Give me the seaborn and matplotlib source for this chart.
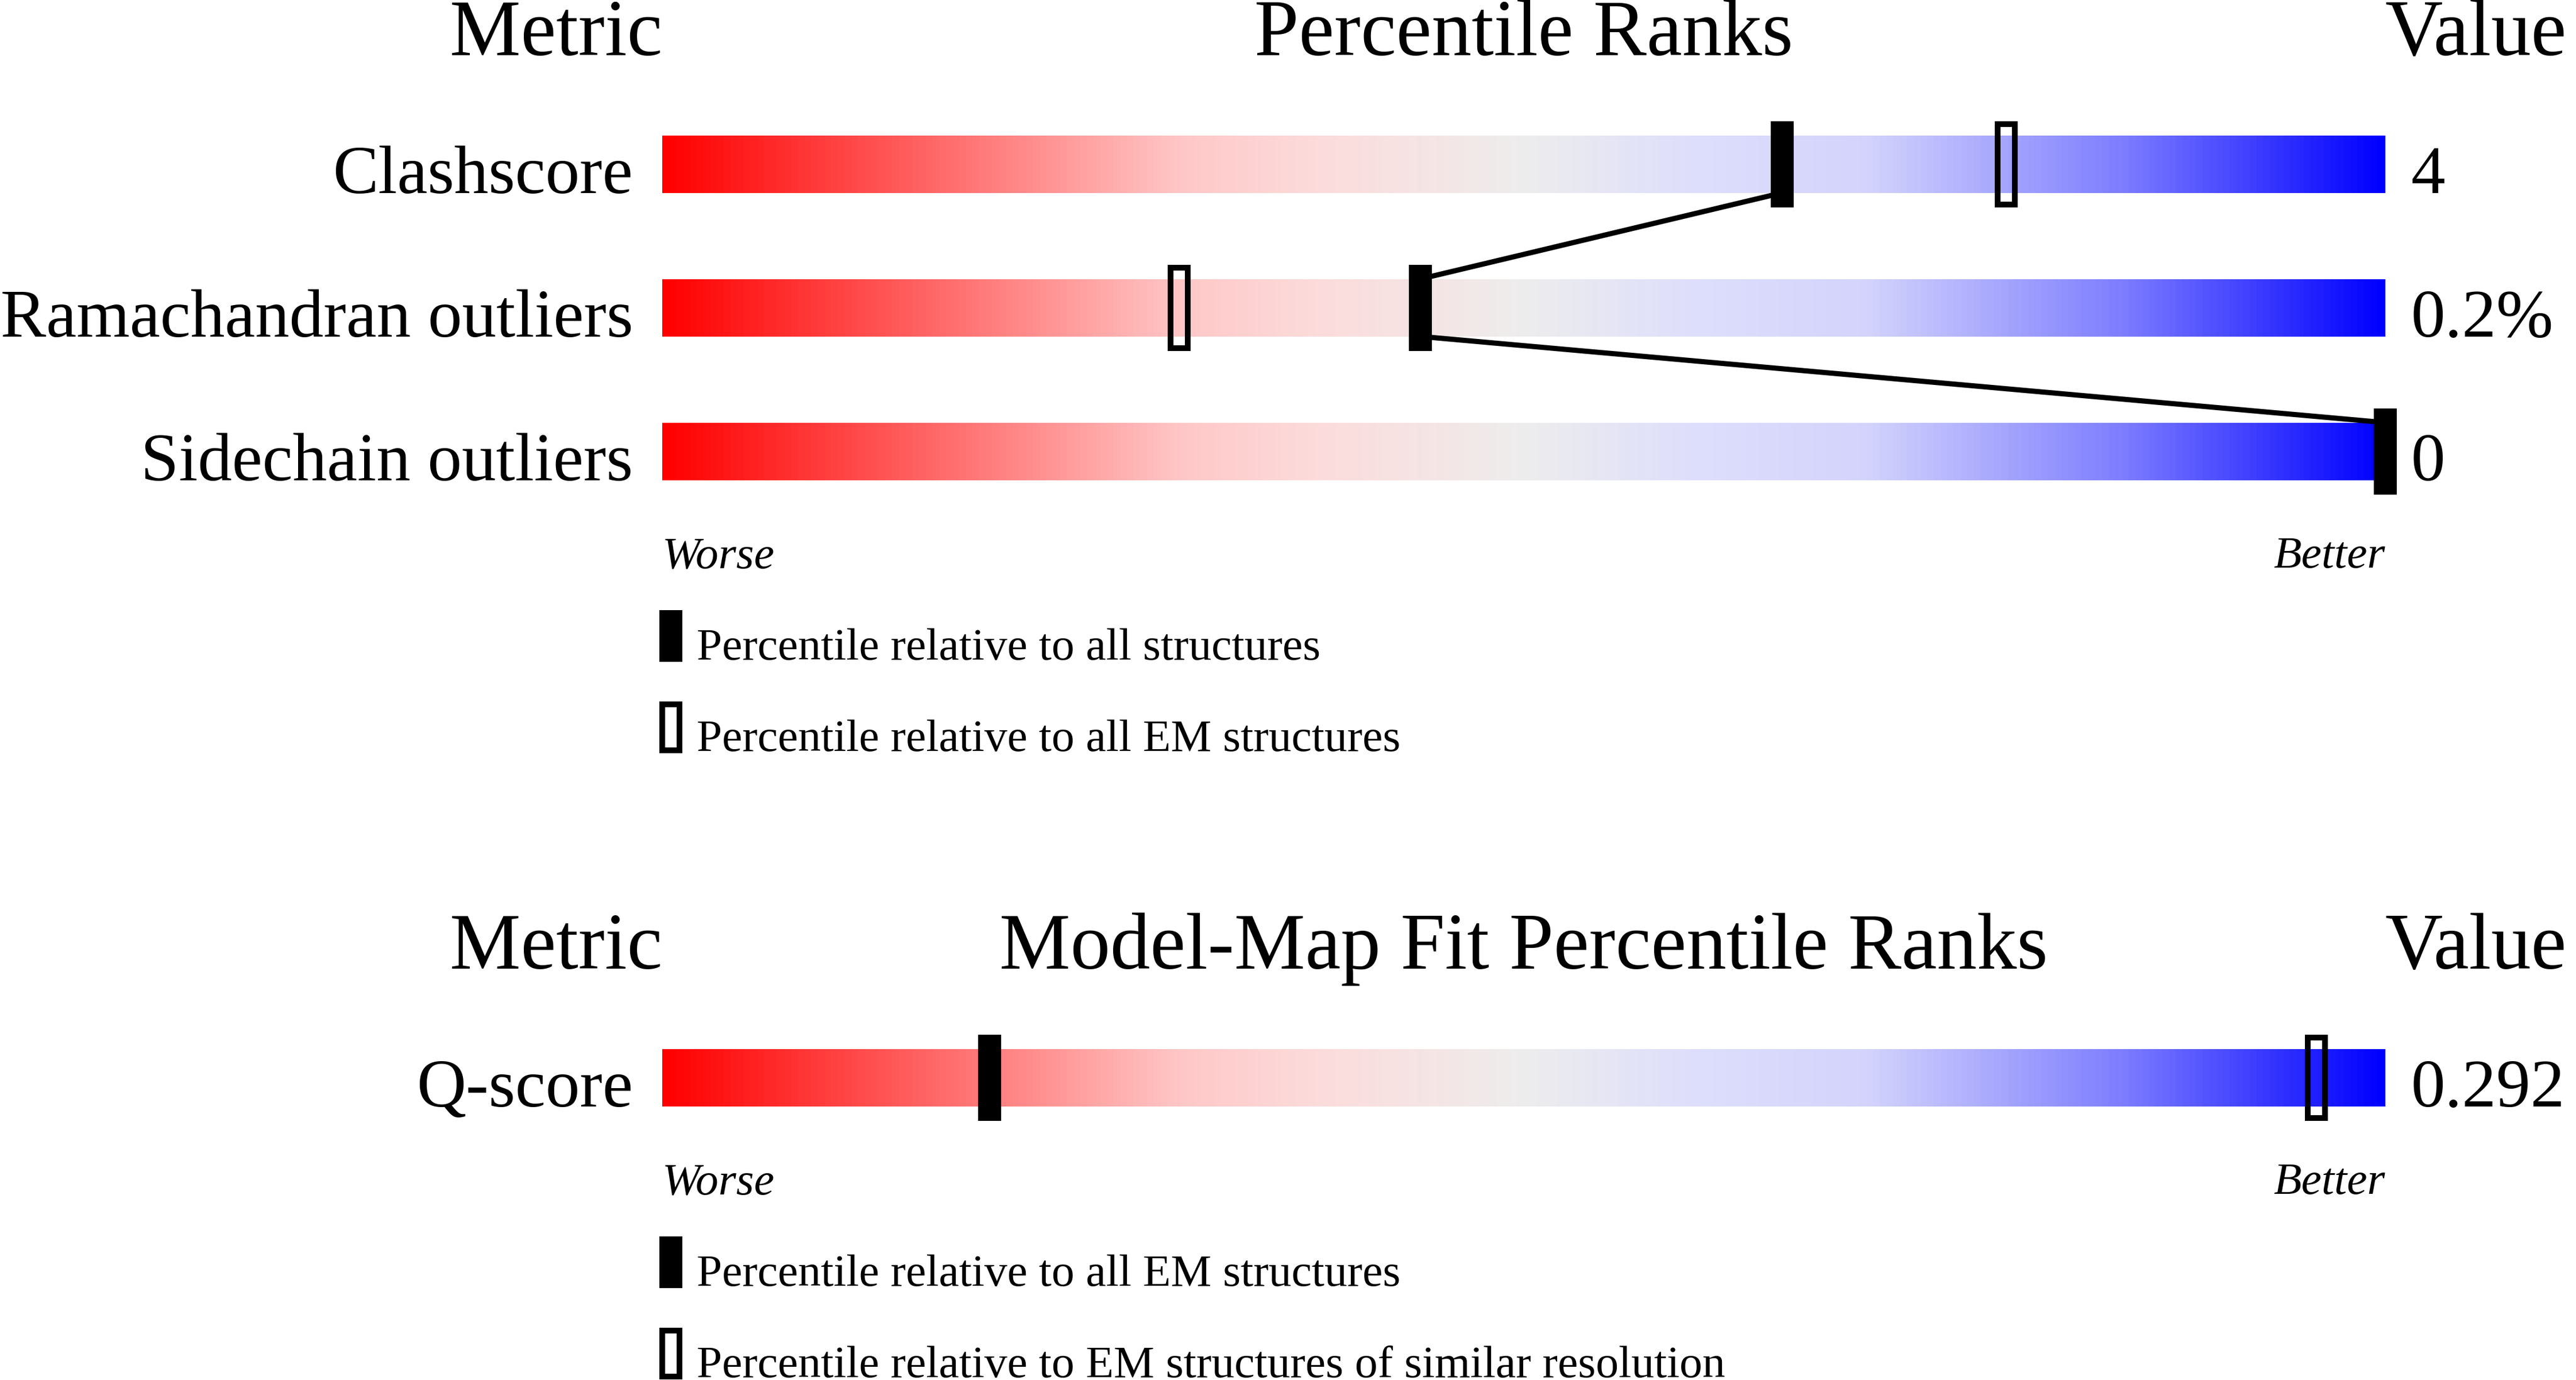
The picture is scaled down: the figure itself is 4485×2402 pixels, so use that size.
import numpy as np
import pandas as pd
import matplotlib
matplotlib.use("Agg")
import matplotlib.pyplot as plt
import seaborn as sns
from matplotlib.colors import LinearSegmentedColormap

# Geometry / validation panel data
metrics_top = ["Clashscore", "Ramachandran outliers", "Sidechain outliers"]
pct_all_top = [65, 44, 100]
pct_em_top = [78, 30, np.nan]
values_top = ["4", "0.2%", "0"]
legend_top = ["Percentile relative to all structures",
              "Percentile relative to all EM structures"]

# Model-map fit panel data
metrics_fit = ["Q-score"]
pct_em_fit = [19]
pct_res_fit = [96]
values_fit = ["0.292"]
legend_fit = ["Percentile relative to all EM structures",
              "Percentile relative to EM structures of similar resolution"]

DPI = 286
BAR_H = 0.4
MARK_W = 1.0
MARK_H = 0.56
EDGE = 10 * 72 / DPI  # 10 px border
LINE_W = 9 * 72 / DPI

slider = LinearSegmentedColormap.from_list("slider", [
    (0.00, (1.00, 0.00, 0.00)),
    (0.30, (1.00, 0.78, 0.78)),
    (0.38, (0.99, 0.86, 0.86)),
    (0.45, (0.96, 0.90, 0.90)),
    (0.50, (0.93, 0.93, 0.93)),
    (0.60, (0.87, 0.87, 0.99)),
    (0.70, (0.83, 0.83, 0.99)),
    (0.85, (0.49, 0.49, 1.00)),
    (1.00, (0.00, 0.00, 1.00)),
])


def draw_panel(ax, title, metrics, pct_solid, pct_open, values, legend_labels, connect):
    rows = np.arange(len(metrics))
    last = rows[-1]
    grad = np.linspace(0, 1, 800).reshape(1, -1)
    for r in rows:
        ax.imshow(grad, cmap=slider, aspect="auto", interpolation="bilinear",
                  extent=[0, 100, r + BAR_H / 2, r - BAR_H / 2], zorder=1)

    if connect:
        pts = []
        for i, p in enumerate(pct_solid):
            if i > 0:
                pts.append((p, i - BAR_H / 2))
            if i < len(pct_solid) - 1:
                pts.append((p, i + BAR_H / 2))
        df = pd.DataFrame(pts, columns=["x", "y"])
        sns.lineplot(data=df, x="x", y="y", sort=False, estimator=None,
                     color="black", linewidth=LINE_W, ax=ax, zorder=3)

    ax.bar(pct_solid, MARK_H, bottom=rows - MARK_H / 2, width=MARK_W,
           color="black", edgecolor="black", linewidth=EDGE, zorder=4, clip_on=False)
    po = np.array(pct_open, dtype=float)
    mask = ~np.isnan(po)
    ax.bar(po[mask], MARK_H, bottom=rows[mask] - MARK_H / 2, width=MARK_W,
           facecolor="none", edgecolor="black", linewidth=EDGE, zorder=4, clip_on=False)

    for r, name, val in zip(rows, metrics, values):
        ax.text(-1.7, r + BAR_H / 2, name, ha="right", va="baseline", fontsize=30)
        ax.text(101.5, r + BAR_H / 2, val, ha="left", va="baseline", fontsize=30)

    ty = -0.76
    ax.text(0, ty, "Metric", ha="right", va="baseline", fontsize=35)
    ax.text(50, ty, title, ha="center", va="baseline", fontsize=35)
    ax.text(100, ty, "Value", ha="left", va="baseline", fontsize=35)

    ax.text(0, last + 0.81, "Worse", ha="left", va="baseline", fontsize=20, style="italic")
    ax.text(100, last + 0.81, "Better", ha="right", va="baseline", fontsize=20, style="italic")

    leg_h = 0.32
    for k, (lab, filled) in enumerate(zip(legend_labels, [True, False])):
        cy = last + 1.2855 + k * 0.635
        ax.bar([0.5], [leg_h], bottom=[cy - leg_h / 2], width=MARK_W,
               facecolor="black" if filled else "none", edgecolor="black",
               linewidth=EDGE, clip_on=False, zorder=4)
        ax.text(2.0, cy + 0.165, lab, ha="left", va="baseline", fontsize=20)

    ax.set_xlim(0, 100)
    ax.set_ylim(last + 0.5, -0.5)
    ax.axis("off")


sns.set_theme(style="white")
plt.rcParams["font.family"] = ["Liberation Serif", "DejaVu Serif"]
plt.rcParams["text.color"] = "black"

W, H = 4485, 2402
fig = plt.figure(figsize=(W / DPI, H / DPI), dpi=DPI)
fig.patch.set_facecolor("white")

left = 1153 / W
width = 3000 / W
ax_top = fig.add_axes([left, 1 - 910.6 / H, width, 750 / H])
ax_fit = fig.add_axes([left, 1 - 2000.8 / H, width, 250 / H])

draw_panel(ax_top, "Percentile Ranks", metrics_top, pct_all_top, pct_em_top,
           values_top, legend_top, connect=True)
draw_panel(ax_fit, "Model-Map Fit Percentile Ranks", metrics_fit, pct_em_fit, pct_res_fit,
           values_fit, legend_fit, connect=False)

fig.savefig("out.png", dpi=DPI, facecolor="white")
